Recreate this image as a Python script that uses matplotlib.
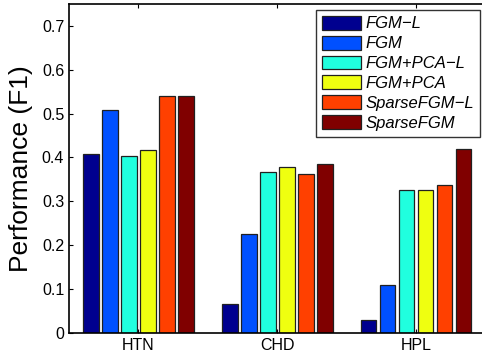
import matplotlib
matplotlib.use("Agg")
import matplotlib.pyplot as plt
import numpy as np

plt.rcParams['font.family'] = ['Liberation Sans', 'DejaVu Sans']

categories = ["HTN", "CHD", "HPL"]
methods = ["FGM\u2212L", "FGM", "FGM+PCA\u2212L", "FGM+PCA", "SparseFGM\u2212L", "SparseFGM"]
values = {
    "FGM\u2212L":       [0.407, 0.066, 0.029],
    "FGM":            [0.508, 0.225, 0.109],
    "FGM+PCA\u2212L":  [0.403, 0.367, 0.326],
    "FGM+PCA":        [0.418, 0.377, 0.326],
    "SparseFGM\u2212L": [0.540, 0.363, 0.336],
    "SparseFGM":      [0.540, 0.384, 0.419],
}
colors = ["#00008F", "#0050FF", "#20FFDF", "#EFFF10", "#FF4000", "#800000"]
yticks = [0, 0.1, 0.2, 0.3, 0.4, 0.5, 0.6, 0.7]
ytick_labels = ["0", "0.1", "0.2", "0.3", "0.4", "0.5", "0.6", "0.7"]

fig = plt.figure(figsize=(4.82, 3.58), dpi=100)
ax = fig.add_axes([69/482, 25.3/358, 416.5/482, 328.7/358])

x = np.arange(1, len(categories) + 1)
step = 0.137
width = 0.113
n = len(methods)
for i, m in enumerate(methods):
    offs = (i - (n - 1) / 2) * step
    ax.bar(x + offs, values[m], width=width, color=colors[i],
           edgecolor="#202020", linewidth=0.9, label=m, zorder=2)

ax.set_xlim(0.5, 3.5)
ax.set_ylim(0, 0.75)
ax.set_xticks(x)
ax.set_xticklabels(categories, fontsize=11.5)
ax.set_yticks(yticks)
ax.set_yticklabels(ytick_labels, fontsize=11.5)
ax.tick_params(direction="in", top=True, right=True, length=3, width=0.8, pad=3.5)
for s in ax.spines.values():
    s.set_linewidth(1.2)
ax.set_ylabel("Performance (F1)", fontsize=19, labelpad=6)

leg = ax.legend(loc="upper right", bbox_to_anchor=(480/482, 348/358),
                bbox_transform=fig.transFigure,
                prop={'style': 'italic', 'size': 12},
                frameon=True, fancybox=False, edgecolor="black",
                handlelength=2.3, handleheight=0.9, handletextpad=0.3,
                labelspacing=0.25, borderpad=0.35, borderaxespad=0)
leg.get_frame().set_linewidth(1.0)

fig.savefig("out.png", dpi=100)
